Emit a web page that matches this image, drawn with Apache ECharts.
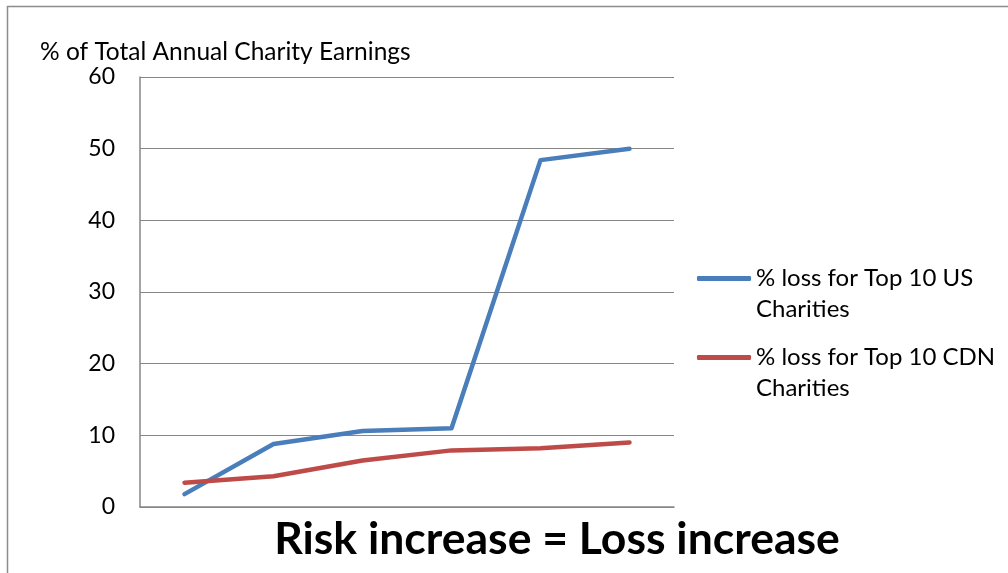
<!DOCTYPE html>
<html>
<head>
<meta charset="utf-8">
<title>Charity earnings loss</title>
<script src="https://cdn.jsdelivr.net/npm/echarts@6/dist/echarts.min.js"></script>
<style>
  html, body { margin: 0; padding: 0; background: #ffffff; }
  #chart { width: 1008px; height: 573px; }
</style>
</head>
<body>
<div id="chart"></div>
<script>
// Six risk steps, unlabelled on the horizontal axis
const categories = ['1', '2', '3', '4', '5', '6'];

// % of total annual charity earnings lost at each step
const usLoss = [1.8, 8.8, 10.6, 11.0, 48.4, 50.0];
const cdnLoss = [3.4, 4.3, 6.5, 7.9, 8.2, 9.0];

const seriesNames = ['% loss for Top 10 US Charities', '% loss for Top 10 CDN Charities'];
const yTicks = { min: 0, max: 60, interval: 10 };

const axisTitle = '% of Total Annual Charity Earnings';
const caption = 'Risk increase = Loss increase';

const FONT = 'Lato, "Open Sans", sans-serif';
const GRAY = '#868686';

const chart = echarts.init(document.getElementById('chart'), null, { renderer: 'canvas' });

chart.setOption({
  backgroundColor: '#ffffff',
  animation: false,
  textStyle: { fontFamily: FONT, color: '#000' },
  title: [
    {
      text: axisTitle,
      left: 35, top: 35,
      textStyle: { fontFamily: FONT, fontSize: 24.5, fontWeight: 'normal', color: '#000' }
    },
    {
      text: caption,
      left: 552, top: 512, textAlign: 'center',
      textStyle: { fontFamily: FONT, fontSize: 44.5, fontWeight: 'bold', color: '#000' }
    }
  ],
  graphic: [
    {
      type: 'rect',
      shape: { x: 7.5, y: 6.5, width: 1200, height: 800 },
      style: { fill: 'none', stroke: '#8c8c8c', lineWidth: 1.5 },
      silent: true
    }
  ],
  legend: {
    orient: 'vertical',
    left: 692, top: 227,
    itemWidth: 54, itemHeight: 5,
    itemGap: -14,
    icon: 'roundRect',
    data: seriesNames,
    // leading empty line keeps the marker level with the first text line
    formatter: function (name) {
      return '\n' + name.replace(/ Charities$/, '\nCharities');
    },
    textStyle: {
      fontFamily: FONT, fontSize: 24, color: '#000',
      lineHeight: 31
    }
  },
  grid: { left: 140, top: 77, width: 534, height: 430, containLabel: false },
  xAxis: {
    type: 'category',
    data: categories,
    boundaryGap: true,
    axisLine: { show: true, lineStyle: { color: GRAY, width: 1.5 } },
    axisTick: { show: false },
    axisLabel: { show: false },
    splitLine: { show: false }
  },
  yAxis: {
    type: 'value',
    min: yTicks.min, max: yTicks.max, interval: yTicks.interval,
    axisLine: { show: true, lineStyle: { color: GRAY, width: 1.5 } },
    axisTick: { show: false },
    axisLabel: { fontFamily: FONT, fontSize: 23, color: '#000', margin: 25 },
    splitLine: { show: true, lineStyle: { color: GRAY, width: 1.2 } }
  },
  series: [
    {
      name: seriesNames[0],
      type: 'line',
      data: usLoss,
      symbol: 'none',
      color: '#4A7EBB',
      lineStyle: { color: '#4A7EBB', width: 4.5, cap: 'round', join: 'round' }
    },
    {
      name: seriesNames[1],
      type: 'line',
      data: cdnLoss,
      symbol: 'none',
      color: '#BE4B48',
      lineStyle: { color: '#BE4B48', width: 4.5, cap: 'round', join: 'round' }
    }
  ]
});
</script>
</body>
</html>
